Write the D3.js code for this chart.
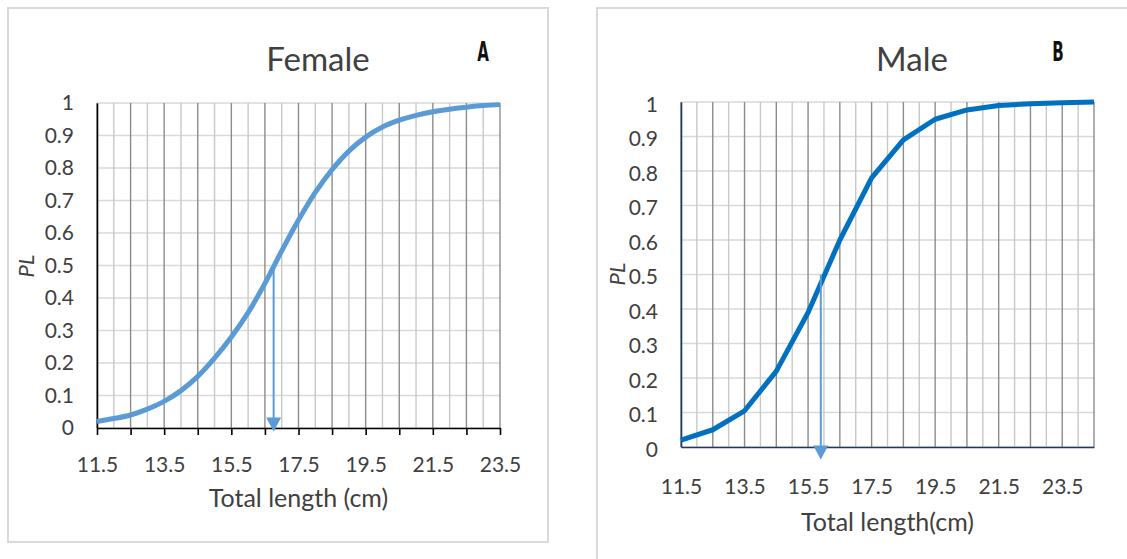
<!DOCTYPE html>
<html>
<head>
<meta charset="utf-8">
<script src="https://cdn.jsdelivr.net/npm/d3@7"></script>
<style>
  body { margin: 0; background: #fff; }
  svg { display: block; font-family: Lato, "Open Sans", sans-serif; }
  .tick text { fill: #404040; }
</style>
</head>
<body>
<svg id="chart" width="1127" height="559"></svg>
<script>
// female maturity ogive (smooth fitted curve)
var femaleLen = [11.5, 12, 12.5, 13, 13.5, 14, 14.5, 15, 15.5, 16, 16.5, 17, 17.5,
                 18, 18.5, 19, 19.5, 20, 20.5, 21, 21.5, 22, 22.5, 23, 23.5];
var femalePL  = [0.02, 0.029, 0.04, 0.058, 0.082, 0.115, 0.159, 0.215, 0.28, 0.355, 0.445, 0.545, 0.64,
                 0.725, 0.795, 0.852, 0.895, 0.926, 0.947, 0.962, 0.973, 0.981, 0.987, 0.992, 0.995];
var femaleL50 = 16.76;

// male ogive (straight segments between points)
var maleLen = [11.5, 12.5, 13.5, 14.5, 15.5, 16.5, 17.5, 18.5, 19.5, 20.5, 21.5, 22.5, 23.5, 24.5];
var malePL  = [0.02, 0.05, 0.105, 0.22, 0.39, 0.60, 0.78, 0.89, 0.95, 0.977, 0.99, 0.995, 0.998, 1.0];
var maleL50 = 15.9;

var yTicks = [0, 0.1, 0.2, 0.3, 0.4, 0.5, 0.6, 0.7, 0.8, 0.9, 1];
var xLabels = [11.5, 13.5, 15.5, 17.5, 19.5, 21.5, 23.5];

var svg = d3.select("#chart");
var fmt = d3.format(".1~f");
var FONT = "Lato, 'Open Sans', sans-serif";

function range(a, b, step) {
  var out = [];
  for (var v = a; v <= b + 1e-9; v += step) out.push(+v.toFixed(2));
  return out;
}

function panel(o) {
  var x = d3.scaleLinear().domain(o.xDomain).range([o.left, o.right]);
  var y = d3.scaleLinear().domain([0, 1]).range([o.bottom, o.top]);
  var g = svg.append("g");

  // frame
  g.append("rect")
    .attr("x", o.frame[0]).attr("y", o.frame[1])
    .attr("width", o.frame[2]).attr("height", o.frame[3])
    .attr("fill", "none").attr("stroke", "#d9d9d9").attr("stroke-width", 2);

  // horizontal grid
  g.append("g").selectAll("line").data(yTicks).enter().append("line")
    .attr("x1", o.left).attr("x2", o.right)
    .attr("y1", function(d) { return y(d); }).attr("y2", function(d) { return y(d); })
    .attr("stroke", "#d9d9d9").attr("stroke-width", 1.5);

  // vertical grid: minor / major
  var verts = range(o.xDomain[0], o.xDomain[1], 0.5);
  g.append("g").selectAll("line").data(verts).enter().append("line")
    .attr("x1", function(d) { return x(d); }).attr("x2", function(d) { return x(d); })
    .attr("y1", o.top).attr("y2", o.bottom)
    .attr("stroke", function(d) { return o.isMajor(d) ? "#8c8c8c" : "#c8c8c8"; })
    .attr("stroke-width", 1.4);

  // axes
  var yAxis = g.append("g")
    .attr("transform", "translate(" + o.left + ",0)")
    .call(d3.axisLeft(y).tickValues(yTicks).tickSize(0).tickPadding(o.yPad).tickFormat(fmt))
    .attr("font-family", FONT).attr("font-size", 21);
  yAxis.select(".domain").attr("stroke", o.axisColor).attr("stroke-width", 1.6);
  yAxis.selectAll("text").attr("dy", o.yDy);

  var xAxis = g.append("g")
    .attr("transform", "translate(0," + o.bottom + ")")
    .call(d3.axisBottom(x).tickValues(xLabels).tickSize(0).tickPadding(o.xPad).tickFormat(d3.format(".1f")))
    .attr("font-family", FONT).attr("font-size", 21);
  xAxis.select(".domain").attr("stroke", o.axisColor).attr("stroke-width", 1.6);

  if (o.tickMarks) {
    var tk = g.append("g")
      .attr("transform", "translate(0," + o.bottom + ")")
      .call(d3.axisBottom(x).tickValues(o.tickMarks).tickSize(7).tickFormat(""));
    tk.select(".domain").remove();
    tk.selectAll("line").attr("stroke", "#000").attr("stroke-width", 1.6);
  }

  // curve
  var line = d3.line()
    .x(function(d) { return x(d[0]); })
    .y(function(d) { return y(d[1]); })
    .curve(o.curve);
  g.append("path")
    .datum(d3.zip(o.len, o.pl))
    .attr("d", line)
    .attr("fill", "none").attr("stroke", o.color)
    .attr("stroke-width", 5).attr("stroke-linejoin", "round");

  // L50 arrow
  var ax = x(o.l50), ay0 = y(0.5), ay1 = y(o.arrowEnd);
  g.append("line")
    .attr("x1", ax).attr("x2", ax).attr("y1", ay0).attr("y2", ay1 - 12)
    .attr("stroke", "#5b9bd5").attr("stroke-width", 2);
  g.append("path")
    .attr("d", "M" + (ax - 7.5) + "," + (ay1 - 14) + "L" + (ax + 7.5) + "," + (ay1 - 14) + "L" + ax + "," + ay1 + "Z")
    .attr("fill", "#5b9bd5");

  // titles
  g.append("text")
    .attr("x", o.titleX).attr("y", 71)
    .attr("text-anchor", "middle").attr("font-size", 33).attr("fill", "#404040")
    .text(o.title);
  g.append("text")
    .attr("transform", "translate(" + o.letterX + ",61) scale(0.62,1)")
    .attr("text-anchor", "middle").attr("font-size", 27).attr("font-weight", "bold")
    .attr("font-family", "'Liberation Sans Narrow', 'DejaVu Sans Condensed', sans-serif")
    .attr("fill", "#111")
    .text(o.letter);
  g.append("text")
    .attr("x", (o.left + o.right) / 2).attr("y", o.xTitleY)
    .attr("text-anchor", "middle").attr("font-size", 25).attr("fill", "#404040")
    .text(o.xTitle);
  g.append("text")
    .attr("transform", "translate(" + o.plX + "," + o.plY + ") rotate(-90)")
    .attr("text-anchor", "middle").attr("font-size", 22).attr("font-style", "italic")
    .attr("fill", "#404040")
    .text("PL");
}

panel({
  xDomain: [11.5, 23.5], left: 97, right: 500, top: 103, bottom: 428,
  frame: [8, 8, 540, 534],
  isMajor: function(d) { return Math.abs((d - 11.5) % 1) < 1e-6; },
  axisColor: "#000", tickMarks: range(11.5, 23.5, 1),
  yPad: 23, yDy: "0.32em", xPad: 29,
  len: femaleLen, pl: femalePL, color: "#5b9bd5", curve: d3.curveCatmullRom.alpha(0.5),
  l50: femaleL50, arrowEnd: -0.011,
  title: "Female", titleX: 318, letter: "A", letterX: 483,
  xTitle: "Total length (cm)", xTitleY: 507, plX: 34, plY: 266
});

panel({
  xDomain: [11.5, 24.5], left: 681, right: 1094, top: 102, bottom: 447,
  frame: [597, 8, 560, 600],
  isMajor: function(d) { return Math.abs((d - 11.5) % 1) < 1e-6; },
  axisColor: "#203864", tickMarks: null,
  yPad: 23, yDy: "0.45em", xPad: 32,
  len: maleLen, pl: malePL, color: "#0070c0", curve: d3.curveLinear,
  l50: maleL50, arrowEnd: -0.036,
  title: "Male", titleX: 912, letter: "B", letterX: 1058,
  xTitle: "Total length(cm)", xTitleY: 531, plX: 625, plY: 274
});
</script>
</body>
</html>
